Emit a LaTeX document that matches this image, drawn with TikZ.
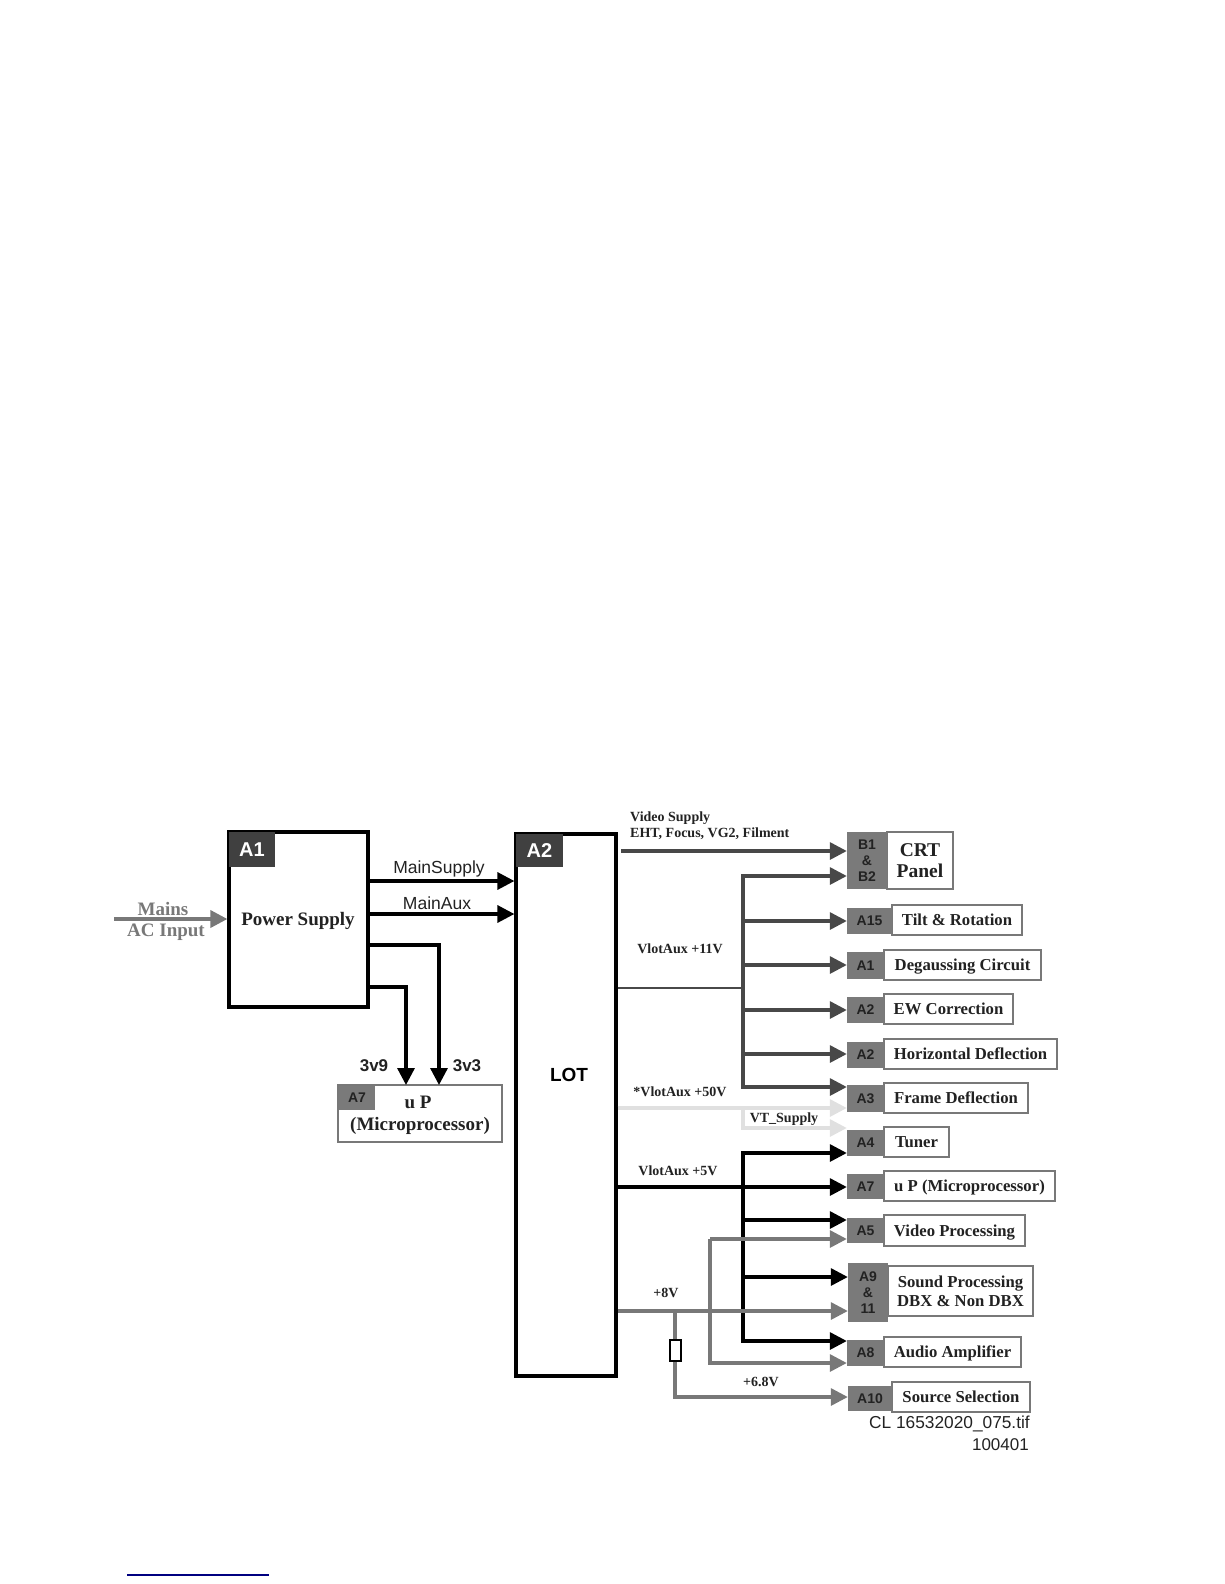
\documentclass[tikz,border=0pt]{standalone}
\usepackage{fontspec}
\setmainfont{Liberation Serif}
\setsansfont{Liberation Sans}
\usetikzlibrary{arrows.meta}
\definecolor{cdark}{HTML}{484848}
\definecolor{cmid}{HTML}{787878}
\definecolor{clight}{HTML}{E0E0E0}
\definecolor{ctag}{HTML}{7A7A7A}
\definecolor{ctagd}{HTML}{404040}
\definecolor{ctxt}{HTML}{222222}
\newcommand{\fs}[1]{\fontsize{#1}{#1}\selectfont}
\newcommand{\nd}[1]{\raisebox{0pt}[\height][0pt]{#1}}
% \rbox{name}{style}{x1}{y1}{x2}{y2}{text}
\newcommand{\rbox}[7]{%
  \node[#2, minimum width={(#5-#3)*1pt}, minimum height={(#6-#4)*1pt}] (#1) at ({(#3+#5)/2},{(#4+#6)/2}) {#7};}
\tikzset{
  x=1pt, y=-1pt,
  bigbox/.style={draw=black, line width=3.2pt, fill=white, inner sep=0pt},
  whitebox/.style={draw=cmid, line width=1.2pt, fill=white, inner sep=0pt, font=\fs{16.7}\bfseries, text=ctxt, align=center},
  graytag/.style={fill=ctag, inner sep=0pt, font=\sffamily\bfseries\fs{14}, text=ctxt, align=center},
  darktag/.style={fill=ctagd, inner sep=0pt, font=\sffamily\bfseries\fs{20}, text=white},
  lab/.style={inner sep=0pt, font=\bfseries\fs{14}, text=ctxt},
  sanslab/.style={inner sep=0pt, font=\sffamily\fs{17.5}, text=ctxt},
  tipped/.style={-{Triangle[length=17pt,width=17pt]}},
  wblack/.style={line width=3.3pt, draw=black, line join=miter},
  wdark/.style={line width=3.3pt, draw=cdark, line join=miter},
  wmid/.style={line width=3.3pt, draw=cmid, line join=miter},
  wlight/.style={line width=3.3pt, draw=clight, line join=miter},
}
\begin{document}
\begin{tikzpicture}
\useasboundingbox (0,0) rectangle (1224,1584);
% main blocks
\rbox{ps}{bigbox}{229}{832}{368}{1007}{}
\rbox{pstag}{darktag}{229}{832}{275}{867}{A1}
\rbox{lot}{bigbox}{516}{834}{616}{1376}{}
\rbox{lottag}{darktag}{516}{834}{563}{867}{A2}
\node[inner sep=0pt, font=\bfseries\fs{19}, text=ctxt] (pstext) at (298,921) {Power Supply};
\node[inner sep=0pt, font=\sffamily\bfseries\fs{19}, text=black] (lottext) at (569,1075) {LOT};
% uP
\rbox{up}{whitebox}{338}{1085}{502}{1142}{}
\rbox{uptag}{graytag}{339}{1086}{375}{1110}{A7}
\node[inner sep=0pt, font=\bfseries\fs{19}, text=ctxt] (uptext1) at (418,1102) {u P};
\node[inner sep=0pt, font=\bfseries\fs{19}, text=ctxt] (uptext2) at (420,1126) {(Microprocessor)};
% right side boxes: white box then tag
\rbox{crt}{whitebox}{887}{832}{953}{889}{\fs{19.5}CRT\\[5pt]\fs{19.5}Panel}
\rbox{crttag}{graytag}{847}{832}{887}{889}{B1\\[2pt]\&\\[2pt]B2}
\rbox{tilt}{whitebox}{892}{905}{1022}{935}{Tilt \& Rotation}
\rbox{tilttag}{graytag}{847}{908}{892}{934}{A15}
\rbox{deg}{whitebox}{884}{950}{1041}{980}{\nd{Degaussing Circuit}}
\rbox{degtag}{graytag}{847}{952}{884}{979}{A1}
\rbox{ew}{whitebox}{884}{994}{1013}{1024}{EW Correction}
\rbox{ewtag}{graytag}{847}{997}{884}{1023}{A2}
\rbox{hor}{whitebox}{884}{1039}{1057}{1069}{Horizontal Deflection}
\rbox{hortag}{graytag}{847}{1042}{884}{1068}{A2}
\rbox{fra}{whitebox}{884}{1083}{1028}{1113}{Frame Deflection}
\rbox{fratag}{graytag}{847}{1085}{884}{1112}{A3}
\rbox{tun}{whitebox}{884}{1127}{949}{1157}{Tuner}
\rbox{tuntag}{graytag}{847}{1130}{884}{1156}{A4}
\rbox{upr}{whitebox}{884}{1171}{1055}{1201}{\nd{u P (Microprocessor)}}
\rbox{uprtag}{graytag}{847}{1174}{884}{1199}{A7}
\rbox{vid}{whitebox}{884}{1215}{1025}{1246}{\nd{Video Processing}}
\rbox{vidtag}{graytag}{847}{1218}{884}{1243}{A5}
\rbox{snd}{whitebox}{888}{1266}{1033}{1316}{Sound Processing\\[2pt]DBX \& Non DBX}
\rbox{sndtag}{graytag}{848}{1263}{888}{1322}{A9\\[2pt]\&\\[2pt]11}
\rbox{aud}{whitebox}{884}{1337}{1021}{1367}{\nd{Audio Amplifier}}
\rbox{audtag}{graytag}{847}{1340}{884}{1366}{A8}
\rbox{src}{whitebox}{892}{1382}{1030}{1412}{Source Selection}
\rbox{srctag}{graytag}{848}{1386}{892}{1411}{A10}
% free ends and junctions
\coordinate (mainsin) at (114,919);
\coordinate (vidstart) at (621,851);
\coordinate (busdtop) at (743,876);
\coordinate (busdbot) at (743,1087);
\coordinate (busdj) at (743,988);
\coordinate (buslj) at (743,1108);
\coordinate (busltop) at (743,1128);
\coordinate (buskj) at (743,1187);
\coordinate (busktop) at (743,1153);
\coordinate (buskbot) at (743,1341);
\coordinate (grtop) at (710,1239);
\coordinate (grbot) at (710,1363);
\coordinate (resj) at (675,1311);
\coordinate (rescorner) at (675,1397);
% power supply connectors
\draw[wmid,tipped,line width=3.6pt] (mainsin) -- (ps.west |- mainsin);
\draw[wblack,tipped] (ps.east |- 0,881) -- (lot.west |- 0,881);
\draw[wblack,tipped] (ps.east |- 0,914) -- (lot.west |- 0,914);
\draw[wblack,tipped] (ps.east |- 0,945) -| (439,1085);
\draw[wblack,tipped] (ps.east |- 0,987) -| (406,1085);
% 11 V
\draw[wdark,tipped] (vidstart) -- (crttag.west |- vidstart);
\draw[wdark,line width=2.6pt] (lot.east |- busdj) -- (busdj);
\draw[wdark,line cap=rect] (busdtop) -- (busdbot);
\draw[wdark,tipped] (busdtop) -- (crttag.west |- busdtop);
\draw[wdark,tipped] (743,921) -- (tilttag.west |- 0,921);
\draw[wdark,tipped] (743,965) -- (degtag.west |- 0,965);
\draw[wdark,tipped] (743,1010) -- (ewtag.west |- 0,1010);
\draw[wdark,tipped] (743,1054) -- (hortag.west |- 0,1054);
\draw[wdark,tipped] (busdbot) -- (fratag.west |- busdbot);
% 50 V
\draw[wlight,tipped] (lot.east |- buslj) -- (fratag.west |- buslj);
\draw[wlight,tipped] (buslj) -- (busltop) -- (tuntag.west |- busltop);
% 5 V
\draw[wblack,line cap=rect] (busktop) -- (buskbot);
\draw[wblack,tipped] (lot.east |- buskj) -- (uprtag.west |- buskj);
\draw[wblack,tipped] (busktop) -- (tuntag.west |- busktop);
\draw[wblack,tipped] (743,1220) -- (vidtag.west |- 0,1220);
\draw[wblack,tipped] (743,1277) -- (sndtag.west |- 0,1277);
\draw[wblack,tipped] (buskbot) -- (audtag.west |- buskbot);
% 8 V
\draw[wmid,tipped] (lot.east |- resj) -- (sndtag.west |- resj);
\draw[wmid,tipped] (grtop) -- (vidtag.west |- grtop);
\draw[wmid,tipped] (grtop) -- (grbot) -- (audtag.west |- grbot);
\draw[wmid,tipped] (resj) -- (rescorner) -- (srctag.west |- rescorner);
\rbox{res}{draw=black, line width=2.4pt, fill=white, inner sep=0pt}{670}{1340}{681}{1361}{}
% labels
\node[inner sep=0pt, font=\bfseries\fs{19}, text=cmid] (mainslab) at (163,909) {Mains};
\node[inner sep=0pt, font=\bfseries\fs{19}, text=cmid] (aclab) at (166,932) {AC Input};
\node[sanslab] (msl) at (439,869) {MainSupply};
\node[sanslab] (mal) at (437,903) {MainAux};
\node[inner sep=0pt, font=\sffamily\bfseries\fs{17}, text=ctxt] (v39) at (374,1066) {3v9};
\node[inner sep=0pt, font=\sffamily\bfseries\fs{17}, text=ctxt] (v33) at (467,1066) {3v3};
\node[lab, anchor=west] (vs1) at (630,818) {Video Supply};
\node[lab, anchor=west] (vs2) at (630,834) {EHT, Focus, VG2, Filment};
\node[lab] (l11) at (680,949) {VlotAux +11V};
\node[lab] (l50) at (680,1092) {*VlotAux +50V};
\node[lab] (lvt) at (784,1119) {VT\_Supply};
\node[lab] (l5) at (678,1171) {VlotAux +5V};
\node[lab] (l8) at (666,1293) {+8V};
\node[lab] (l68) at (761,1382) {+6.8V};
\node[sanslab, anchor=east, font=\sffamily\fs{17.3}] (cl1) at (1030,1424) {CL 16532020\_075.tif};
\node[sanslab, anchor=east, font=\sffamily\fs{17}] (cl2) at (1029,1445) {100401};
% blue rule
\coordinate (blueL) at (127,1575);
\coordinate (blueR) at (269,1575);
\draw[line width=1.2pt, draw=blue!50!black] (blueL) -- (blueR);
\end{tikzpicture}
\end{document}
